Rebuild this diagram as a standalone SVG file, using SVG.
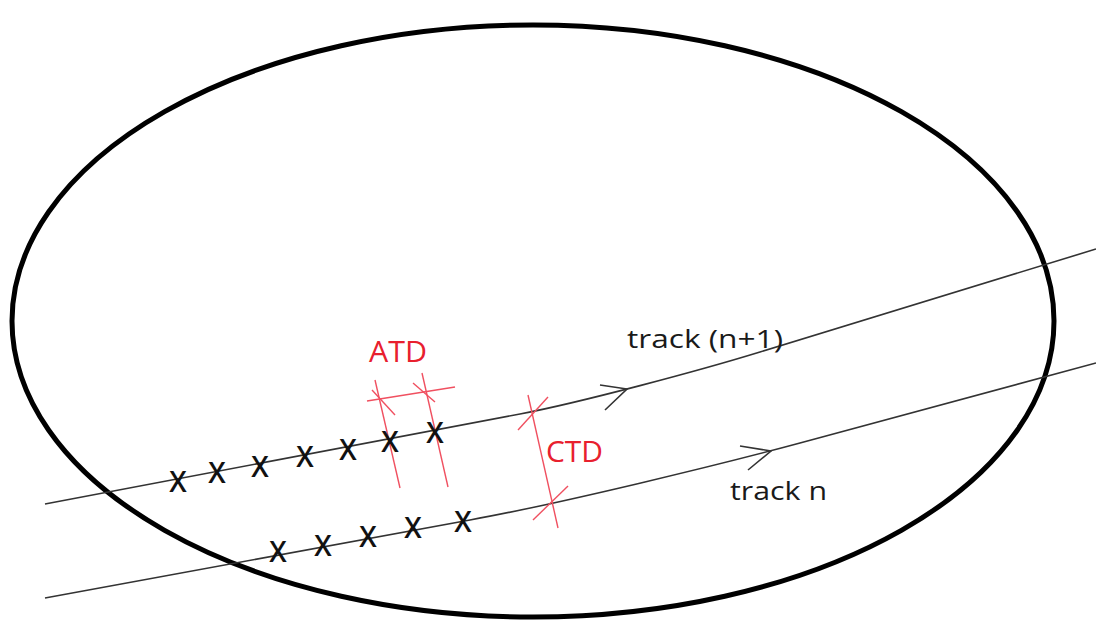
<svg xmlns="http://www.w3.org/2000/svg" width="1096" height="620" viewBox="0 0 1096 620">
<style>
.track{fill:none;stroke:#333;stroke-width:1.6}
.red{fill:none;stroke:#f05060;stroke-width:1.4}
.lbl{font-family:"Open Sans","Liberation Sans",sans-serif;font-size:26px;fill:#1a1a1a}
.rlbl{font-family:"Open Sans","Liberation Sans",sans-serif;font-size:30px;fill:#e8202e}
.x{font-family:"Open Sans","Liberation Sans",sans-serif;font-size:28px;font-weight:600;fill:#111;text-anchor:middle}
</style>
<rect width="1096" height="620" fill="#fff"/>
<g id="region">
<ellipse cx="533" cy="321" rx="521" ry="296" fill="none" stroke="#000" stroke-width="5"/>
</g>
<g id="connectors">
<path id="track-n1" class="track" d="M45,504 L520,414 C580,402.6 700,370.4 760,352 L1096,249"/>
<path id="track-n" class="track" d="M45,598 L470,520 C560,503.5 720,464.6 800,443 L1096,363"/>
<polyline class="track" points="600,385 627,389 605,410"/>
<polyline class="track" points="740,446 771,451 748,470"/>
</g>
<g id="atd">
<line class="red" x1="375" y1="380" x2="400" y2="488"/>
<line class="red" x1="422" y1="373" x2="448" y2="487"/>
<line class="red" x1="367" y1="401" x2="455" y2="387"/>
<line class="red" x1="372" y1="390" x2="395" y2="415"/>
<line class="red" x1="413" y1="383" x2="435" y2="402"/>
<text class="rlbl" x="369" y="362" textLength="58" lengthAdjust="spacingAndGlyphs">ATD</text>
</g>
<g id="ctd">
<line class="red" x1="528" y1="395" x2="558" y2="528"/>
<line class="red" x1="518" y1="430" x2="548" y2="397"/>
<line class="red" x1="533" y1="520" x2="568" y2="486"/>
<text class="rlbl" x="546" y="462" textLength="57" lengthAdjust="spacingAndGlyphs">CTD</text>
</g>
<g id="label-n1"><text class="lbl" x="627" y="348" textLength="156" lengthAdjust="spacingAndGlyphs">track (n+1)</text></g>
<g id="label-n"><text class="lbl" x="730" y="500" textLength="97" lengthAdjust="spacingAndGlyphs">track n</text></g>
<g id="marks-n1">
<text class="x" x="178" y="492">X</text>
<text class="x" x="217" y="483">X</text>
<text class="x" x="260" y="477">X</text>
<text class="x" x="305" y="467">X</text>
<text class="x" x="348" y="460">X</text>
<text class="x" x="390" y="452">X</text>
<text class="x" x="435" y="443">X</text>
</g>
<g id="marks-n">
<text class="x" x="278" y="562">X</text>
<text class="x" x="323" y="556">X</text>
<text class="x" x="368" y="547">X</text>
<text class="x" x="413" y="538">X</text>
<text class="x" x="463" y="532">X</text>
</g>
</svg>
